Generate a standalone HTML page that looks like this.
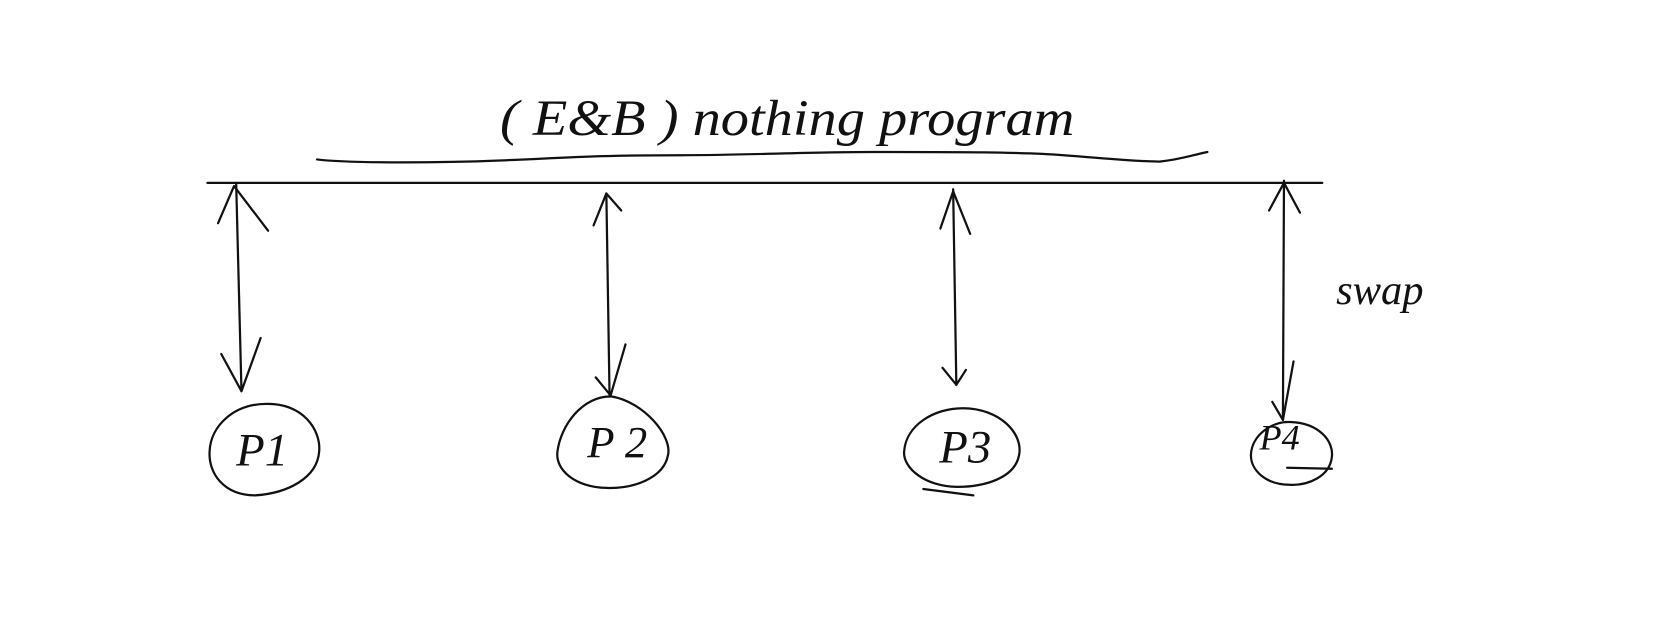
<!DOCTYPE html>
<html><head><meta charset="utf-8"><style>
html,body{margin:0;padding:0;background:#fff;}
svg{display:block;}
text{font-family:"Liberation Serif",serif;font-style:italic;fill:#111;}
</style></head><body>
<svg width="1668" height="641" viewBox="0 0 1568 603" preserveAspectRatio="none" fill="none" stroke="#111" stroke-width="2.1" stroke-linecap="round" stroke-linejoin="round">
  <text x="470" y="127" font-size="48" stroke="none" textLength="540" lengthAdjust="spacingAndGlyphs">( E&amp;B )  nothing  program</text>
  <path d="M298 150 C330 154 420 153 470 151 C540 148 560 146 640 146 C700 146 760 143 820 143 C900 143 960 143 1000 146 C1040 149 1070 152 1090 152 C1110 150 1120 146 1135 143"/>
  <path d="M195 172 L1243 172"/>

  <g>
    <path d="M222 172 L227 368"/>
    <path d="M205 210 L220 175 L252 217"/>
    <path d="M208 333 L227 368 L245 318"/>
  </g>
  <g>
    <path d="M570 182 L573 372"/>
    <path d="M558 212 L570 182 L584 198"/>
    <path d="M560 355 L574 372 L588 324"/>
  </g>
  <g>
    <path d="M896 178 L899 362"/>
    <path d="M884 215 L896 180 L912 220"/>
    <path d="M886 346 L899 362 L908 348"/>
  </g>
  <g>
    <path d="M1207 170 L1206 395"/>
    <path d="M1193 198 L1207 172 L1222 200"/>
    <path d="M1196 378 L1206 395 L1216 340"/>
  </g>

  <g>
    <path d="M248 380 C285 378 302 405 300 425 C298 450 270 464 240 466 C210 466 196 445 197 425 C198 400 220 381 248 380"/>
    <text x="222" y="438" font-size="44" stroke="none">P1</text>
  </g>
  <g>
    <path d="M575 373 C605 378 632 410 628 428 C624 450 595 460 570 459 C540 458 522 442 524 425 C527 400 548 372 575 373"/>
    <text x="552" y="430" font-size="42" stroke="none">P 2</text>
  </g>
  <g>
    <path d="M905 384 C940 384 962 408 958 428 C954 450 925 458 900 458 C870 458 848 440 850 424 C852 400 878 384 905 384"/>
    <path d="M868 460 L915 466"/>
    <text x="883" y="435" font-size="44" stroke="none">P3</text>
  </g>
  <g>
    <path d="M1213 397 C1240 398 1254 415 1252 430 C1250 448 1230 457 1212 456 C1190 456 1175 442 1176 427 C1177 410 1195 396 1213 397"/>
    <path d="M1210 440 L1252 441"/>
    <text x="1184" y="423" font-size="34" stroke="none">P4</text>
  </g>

  <text x="1256" y="286" font-size="40" stroke="none">swap</text>
</svg>
</body></html>
